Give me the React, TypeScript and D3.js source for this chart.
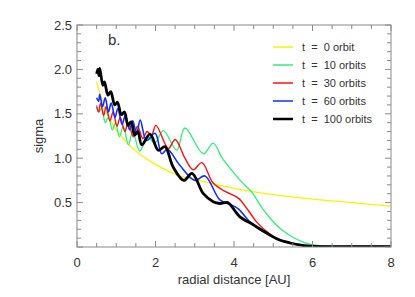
import React from 'react';
import * as d3 from 'd3';

// t = 0 orbit
const r0 = [0.5, 0.75, 1, 1.5, 2, 2.62, 3, 4, 5, 6, 7, 8];
const s0 = [1.86, 1.52, 1.32, 1.08, 0.93, 0.8, 0.76, 0.66, 0.59, 0.54, 0.5, 0.46];

// t = 10 orbits
const r10 = [0.5, 0.56, 0.63, 0.72, 0.8, 0.9, 0.98, 1.08, 1.18, 1.31, 1.42, 1.6, 1.8, 1.98, 2.2, 2.54, 2.75, 3.22, 3.47, 3.7, 3.95, 4.2, 4.45, 4.7, 4.95, 5.2, 5.5, 5.8, 6.1, 6.5, 7.2, 8];
const s10 = [1.6, 1.52, 1.56, 1.4, 1.46, 1.32, 1.4, 1.24, 1.36, 1.15, 1.3, 1.08, 1.24, 1.17, 1.31, 1.09, 1.34, 1.05, 1.17, 1.0, 0.86, 0.73, 0.62, 0.45, 0.31, 0.2, 0.11, 0.05, 0.02, 0.006, 0.005, 0.005];

// t = 30 orbits
const r30 = [0.5, 0.55, 0.6, 0.68, 0.74, 0.84, 0.92, 1.02, 1.1, 1.22, 1.3, 1.44, 1.54, 1.68, 1.78, 1.9, 2.01, 2.33, 2.5, 2.75, 2.96, 3.18, 3.47, 3.8, 4.11, 4.35, 4.58, 4.9, 5.17, 5.5, 5.85, 6.2, 7, 8];
const s30 = [1.58, 1.52, 1.62, 1.48, 1.58, 1.42, 1.52, 1.36, 1.46, 1.3, 1.4, 1.24, 1.36, 1.22, 1.3, 1.26, 1.37, 1.11, 1.21, 1.0, 0.87, 0.95, 0.72, 0.62, 0.55, 0.42, 0.28, 0.15, 0.08, 0.035, 0.012, 0.005, 0.005, 0.005];

// t = 60 orbits
const r60 = [0.5, 0.55, 0.58, 0.65, 0.72, 0.8, 0.87, 0.97, 1.04, 1.15, 1.23, 1.34, 1.42, 1.52, 1.61, 1.77, 1.99, 2.16, 2.3, 2.62, 3.0, 3.26, 3.64, 3.9, 4.11, 4.41, 4.75, 5.17, 5.5, 5.9, 6.3, 7, 8];
const s60 = [1.68, 1.64, 1.72, 1.58, 1.68, 1.52, 1.62, 1.46, 1.56, 1.38, 1.48, 1.32, 1.42, 1.27, 1.43, 1.2, 1.28, 1.05, 1.1, 0.92, 0.75, 0.8, 0.53, 0.48, 0.43, 0.28, 0.17, 0.08, 0.04, 0.012, 0.005, 0.005, 0.005];

// t = 100 orbits
const r100 = [0.5, 0.53, 0.56, 0.58, 0.66, 0.7, 0.79, 0.86, 0.96, 1.03, 1.13, 1.21, 1.3, 1.38, 1.47, 1.55, 1.65, 1.86, 2.07, 2.24, 2.45, 2.72, 2.93, 3.22, 3.47, 3.64, 3.84, 4.07, 4.15, 4.49, 4.75, 5.1, 5.43, 5.8, 6.2, 7, 8];
const s100 = [1.95, 2.0, 1.93, 2.01, 1.82, 1.86, 1.71, 1.75, 1.6, 1.63, 1.49, 1.52, 1.37, 1.41, 1.26, 1.3, 1.15, 1.27, 1.09, 1.13, 0.9, 0.75, 0.83, 0.6, 0.51, 0.49, 0.5, 0.38, 0.34, 0.25, 0.18, 0.09, 0.045, 0.015, 0.005, 0.005, 0.005];

const labels = ['t  =  0 orbit', 't  =  10 orbits', 't  =  30 orbits', 't  =  60 orbits', 't  =  100 orbits'];
const colors = ['#f5f500', '#2cf07a', '#ff1010', '#1030ff', '#000000'];
const widths = [1.3, 1.3, 1.4, 1.6, 2.8];

const xTicks = [0, 2, 4, 6, 8];
const yTicks = [0.5, 1.0, 1.5, 2.0, 2.5];

const W = 415, H = 297;
const left = 77, right = 391, top = 25, bottom = 247;
const font = '"Liberation Sans", Arial, sans-serif';
const axisColor = '#8a8a8a';
const textColor = '#333';

export default function App() {
  const x = d3.scaleLinear().domain([0, 8]).range([left, right]);
  const y = d3.scaleLinear().domain([0, 2.5]).range([bottom, top]);

  const series = [[r0, s0], [r10, s10], [r30, s30], [r60, s60], [r100, s100]];
  const line = d3.line<[number, number]>()
    .x(d => x(d[0]))
    .y(d => y(d[1]))
    .curve(d3.curveCatmullRom.alpha(0.5));

  const xMinor = d3.range(0, 8.001, 0.5);
  const yMinor = d3.range(0, 2.501, 0.1);

  return (
    <svg width={W} height={H} style={{ position: 'absolute', left: 0, top: 0, background: '#fff' }}>
      <defs>
        <clipPath id="plot">
          <rect x={left} y={top} width={right - left} height={bottom - top} />
        </clipPath>
      </defs>

      {/* data lines */}
      <g clipPath="url(#plot)">
        {series.map((s, i) => (
          <path key={i}
            d={line(s[0].map((r, j) => [r, s[1][j]] as [number, number])) || ''}
            fill="none" stroke={colors[i]} strokeWidth={widths[i]} strokeLinejoin="round" />
        ))}
      </g>

      {/* frame */}
      <rect x={left} y={top} width={right - left} height={bottom - top} fill="none" stroke={axisColor} strokeWidth={1} />

      {/* x ticks, bottom and top */}
      {xMinor.map((v, i) => {
        const major = Math.abs(v - Math.round(v / 2) * 2) < 1e-6;
        const len = major ? 6 : 4;
        return (
          <g key={'xt' + i} stroke={axisColor}>
            <line x1={x(v)} x2={x(v)} y1={bottom} y2={bottom - len} />
            <line x1={x(v)} x2={x(v)} y1={top} y2={top + len} />
          </g>
        );
      })}
      {/* y ticks, left and right */}
      {yMinor.map((v, i) => {
        const major = Math.abs(v * 2 - Math.round(v * 2)) < 1e-6;
        const len = major ? 6 : 4;
        return (
          <g key={'yt' + i} stroke={axisColor}>
            <line x1={left} x2={left + len} y1={y(v)} y2={y(v)} />
            <line x1={right} x2={right - len} y1={y(v)} y2={y(v)} />
          </g>
        );
      })}

      {xTicks.map(v => (
        <text key={'xl' + v} x={x(v)} y={bottom + 20} textAnchor="middle" fontFamily={font} fontSize={13} fill={textColor}>{v}</text>
      ))}
      {yTicks.map(v => (
        <text key={'yl' + v} x={left - 5} y={y(v) + 4.5} textAnchor="end" fontFamily={font} fontSize={13} fill={textColor}>{v.toFixed(1)}</text>
      ))}

      <text x={(left + right) / 2} y={284} textAnchor="middle" fontFamily={font} fontSize={13} fill={textColor}>radial distance [AU]</text>
      <text transform={`translate(43,${(top + bottom) / 2}) rotate(-90)`} textAnchor="middle" fontFamily={font} fontSize={13} fill={textColor}>sigma</text>

      <text x={108} y={45} fontFamily={font} fontSize={15} fill={textColor}>b.</text>

      {/* legend */}
      {labels.map((l, i) => (
        <g key={'lg' + i}>
          <line x1={273} x2={293} y1={47 + i * 18} y2={47 + i * 18} stroke={colors[i]} strokeWidth={i === 4 ? 2.5 : 1.5} />
          <text x={302} y={51 + i * 18} fontFamily={font} fontSize={11} fill={textColor} style={{ whiteSpace: 'pre' }}>{l}</text>
        </g>
      ))}
    </svg>
  );
}
